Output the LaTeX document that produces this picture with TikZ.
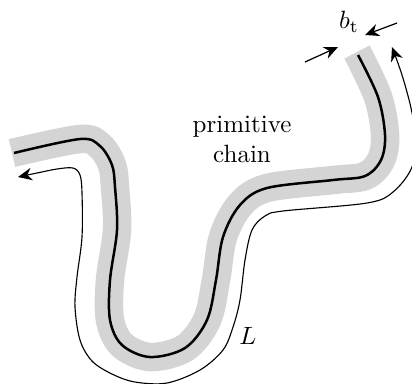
\documentclass[tikz,border=0pt]{standalone}
\usetikzlibrary{arrows.meta}

\begin{document}
\begin{tikzpicture}[x=0.4pt, y=-0.4pt,
  band/.style={line width=11.4pt, black!17, line cap=butt},
  chain/.style={line width=1pt, black},
  contour/.style={line width=0.45pt, {Stealth[length=5.6pt,width=5pt]}-{Stealth[length=5.6pt,width=5pt]}},
  arr/.style={-{Stealth[length=5.6pt,width=5pt]}, line width=0.5pt},
  lbl/.style={align=center, inner sep=0pt}
]
\useasboundingbox (0,0) rectangle (412,383);
% tube around the primitive chain
\draw[band] plot[smooth, tension=0.55] coordinates {(12,153) (80,139) (100,146) (112,165) (115,187) (117,230) (110,280) (110,320) (122,345) (150,357) (185,348) (207,320) (216,280) (223,237) (240,205) (267,188) (333,180) (365,176) (381,160) (385,135) (378,97) (357,52)};
\draw[chain] plot[smooth, tension=0.55] coordinates {(14,153) (80,139) (100,146) (112,165) (115,187) (117,230) (110,280) (110,320) (122,345) (150,357) (185,348) (207,320) (216,280) (223,237) (240,205) (267,188) (333,180) (365,176) (381,160) (385,135) (378,97) (358,55)};
% contour length
\draw[contour] plot[smooth, tension=0.55] coordinates {(18,177) (37,173) (57,169) (73,168) (80,175) (82,193) (82,237) (77,277) (75,307) (80,340) (92,361) (112,374) (135,382) (167,383) (200,370) (223,350) (233,327) (240,300) (245,260) (252,230) (265,216) (283,211) (367,203) (393,192) (412,167) (415,135) (411,108) (402,75) (392,47)};
% tube diameter
\coordinate (bl) at (305,62);
\coordinate (bltip) at (338,47);
\coordinate (br) at (397,23);
\coordinate (brtip) at (365,35);
\draw[arr] (bl) -- (bltip);
\draw[arr] (br) -- (brtip);
\node[lbl] (bt) at (349,22) {$b_{\mathrm{t}}$};
\node[lbl] (pc) at (242,139) {primitive\\chain};
\node[lbl] (len) at (248,336) {$L$};
\end{tikzpicture}
\end{document}
